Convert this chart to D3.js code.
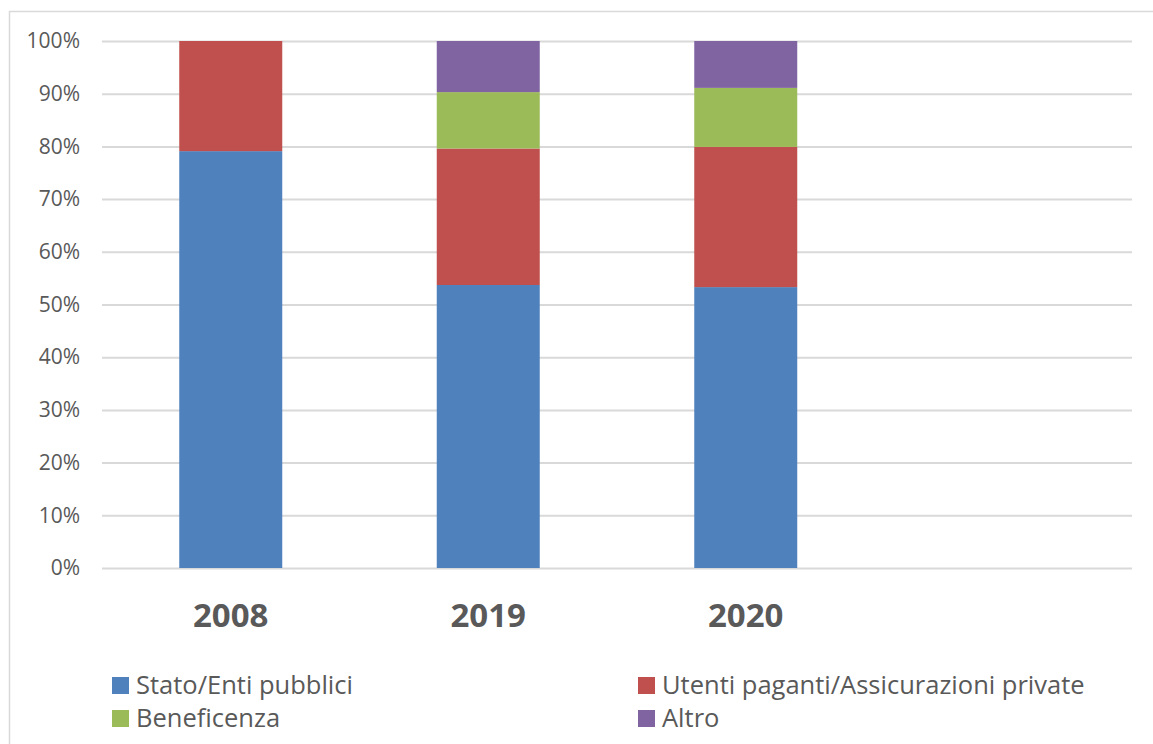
<!DOCTYPE html>
<html>
<head>
<meta charset="utf-8">
<script src="https://cdn.jsdelivr.net/npm/d3@7"></script>
<style>
  html, body { margin: 0; padding: 0; background: #fff; }
  svg { display: block; }
  text { font-family: "Open Sans", "Noto Sans", sans-serif; fill: #595959; }
</style>
</head>
<body>
<script>
// ---- data ----
const categories = ["2008", "2019", "2020", ""];
const seriesNames = ["Stato/Enti pubblici", "Utenti paganti/Assicurazioni private", "Beneficenza", "Altro"];
const seriesColors = ["#4f81bd", "#c0504d", "#9bbb59", "#8064a2"];
const statoEnti   = [79.1, 53.7, 53.3, null];
const utentiPag   = [20.9, 25.9, 26.6, null];
const beneficenza = [0.0, 10.7, 11.2, null];
const altro       = [0.0, 9.7, 8.9, null];
const yTicks = [0, 10, 20, 30, 40, 50, 60, 70, 80, 90, 100];

const W = 1153, H = 744;
const svg = d3.select("body").append("svg").attr("width", W).attr("height", H);

// chart border (extends past right/bottom edges)
svg.append("rect").attr("x", 9.5).attr("y", 11.5).attr("width", W + 20).attr("height", H + 20)
  .attr("fill", "none").attr("stroke", "#d9d9d9").attr("stroke-width", 1.5);

const plot = { left: 102, right: 1132, top: 41, bottom: 568 };

const x = d3.scaleBand().domain(categories.map((c, i) => i))
  .range([plot.left, plot.right]).paddingInner(0.6).paddingOuter(0.3);
const y = d3.scaleLinear().domain([0, 100]).range([plot.bottom, plot.top]);

// gridlines
const yAxis = d3.axisLeft(y).tickValues(yTicks).tickSize(-(plot.right - plot.left))
  .tickFormat(d => d + "%").tickPadding(22);
const gy = svg.append("g").attr("transform", `translate(${plot.left},0)`).call(yAxis);
gy.select(".domain").remove();
gy.selectAll(".tick line").attr("stroke", "#d9d9d9").attr("stroke-width", 2);
gy.selectAll(".tick text").attr("font-size", 21).attr("fill", "#595959")
  .style("font-family", '"Open Sans", sans-serif');

// stacked data
const rows = categories.map((c, i) => ({
  idx: i,
  s0: statoEnti[i], s1: utentiPag[i], s2: beneficenza[i], s3: altro[i]
})).filter(r => r.s0 !== null);
const stack = d3.stack().keys(["s0", "s1", "s2", "s3"]);
const stacked = stack(rows);

svg.append("g").selectAll("g").data(stacked).join("g")
  .attr("fill", (d, i) => seriesColors[i])
  .selectAll("rect").data(d => d).join("rect")
  .attr("x", d => x(d.data.idx))
  .attr("width", x.bandwidth())
  .attr("y", d => y(d[1]))
  .attr("height", d => Math.max(0, y(d[0]) - y(d[1])));

// x labels
svg.append("g").selectAll("text").data(categories.map((c, i) => ({ c, i })).filter(d => d.c))
  .join("text")
  .attr("x", d => x(d.i) + x.bandwidth() / 2)
  .attr("y", 627)
  .attr("text-anchor", "middle")
  .attr("font-size", 33).attr("font-weight", "bold")
  .text(d => d.c);

// legend
const legendPos = [
  { x: 112, y: 677 }, { x: 638, y: 677 },
  { x: 112, y: 710 }, { x: 638, y: 710 }
];
const lg = svg.append("g").selectAll("g").data(seriesNames).join("g")
  .attr("transform", (d, i) => `translate(${legendPos[i].x},${legendPos[i].y})`);
lg.append("rect").attr("width", 17).attr("height", 17).attr("fill", (d, i) => seriesColors[i]);
lg.append("text").attr("x", 24).attr("y", 16.5).attr("font-size", 25.5).text(d => d);
</script>
</body>
</html>
